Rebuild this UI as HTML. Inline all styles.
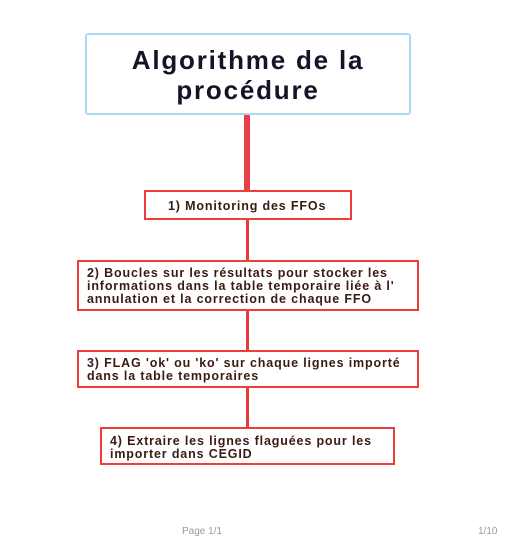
<!DOCTYPE html>
<html><head><style>
body{margin:0;width:511px;height:530px;background:#fff;position:relative;overflow:hidden;font-family:"Liberation Sans","DejaVu Sans",sans-serif;}
.b{position:absolute;box-sizing:border-box;border:2.5px solid #ef3b3b;background:#fff;color:#3a1a12;font-weight:bold;font-size:12.5px;line-height:12.8px;letter-spacing:0.85px;white-space:nowrap;}
.l{position:absolute;background:#e83a3a;width:3px;left:246px;}
</style></head><body>
<div style="position:absolute;left:85px;top:33px;width:326px;height:82px;box-sizing:border-box;border:2px solid #a9d8f3;border-radius:3px;text-align:center;font-weight:bold;font-size:26px;line-height:30px;color:#141428;padding-top:10px;letter-spacing:1.8px;">Algorithme de la<br>procédure</div>
<div class="l" style="top:115px;height:75px;width:6px;left:244px;background:#e8404a"></div>
<div class="l" style="top:220px;height:40px"></div>
<div class="l" style="top:311px;height:39px"></div>
<div class="l" style="top:388px;height:39px"></div>
<div class="b" style="left:144px;top:190px;width:208px;height:30px;padding:8px 0 0 22px;">1) Monitoring des FFOs</div>
<div class="b" style="left:77px;top:260px;width:342px;height:51px;padding:5px 0 0 8px;">2) Boucles sur les résultats pour stocker les<br>informations dans la table temporaire liée à l'<br>annulation et la correction de chaque FFO</div>
<div class="b" style="left:77px;top:350px;width:342px;height:38px;padding:5px 0 0 8px;">3) FLAG 'ok' ou 'ko' sur chaque lignes importé<br>dans la table temporaires</div>
<div class="b" style="left:100px;top:427px;width:295px;height:38px;padding:6px 0 0 8px;">4) Extraire les lignes flaguées pour les<br>importer dans CEGID</div>
<div style="position:absolute;left:182px;top:526px;font-size:10px;color:#999">Page 1/1</div>
<div style="position:absolute;left:478px;top:526px;font-size:10px;color:#999">1/10</div>
</body></html>
